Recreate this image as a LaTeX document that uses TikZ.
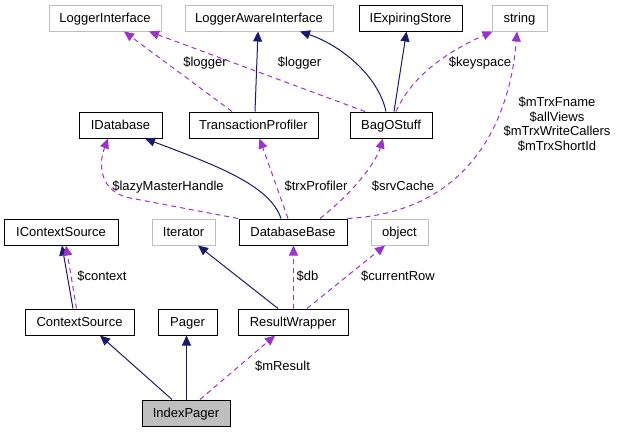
\documentclass[tikz,border=0pt]{standalone}
\usepackage{fontspec}
\setmainfont{Liberation Sans}
\usetikzlibrary{arrows.meta}
\definecolor{navy}{HTML}{191970}
\definecolor{purp}{HTML}{9A32CD}
\definecolor{extgray}{HTML}{BFBFBF}
\begin{document}
\begin{tikzpicture}[x=1pt,y=-1pt,
  box/.style={draw=black, line width=1pt, rectangle, minimum height=26pt, inner sep=0pt,
    font=\fontsize{13}{15}\selectfont, text height=9.3pt, text depth=0pt},
  ext/.style={box, draw=extgray},
  inh/.style={draw=navy, line width=1pt, -{Triangle[length=10pt,width=9pt]}},
  use/.style={draw=purp, line width=1pt, dash pattern=on 5pt off 4pt, -{Triangle[length=10pt,width=9pt]}},
  lbl/.style={font=\fontsize{13}{14.5}\selectfont, inner sep=0pt, anchor=base}]
\useasboundingbox (0,0) rectangle (617,432);
% nodes
\node[ext, minimum width=112pt] (li)  at (105,18)   {LoggerInterface};
\node[ext, minimum width=148pt] (lai) at (259,18)   {LoggerAwareInterface};
\node[box, minimum width=103pt] (ies) at (410.5,18) {IExpiringStore};
\node[ext, minimum width=55pt]  (str) at (519.5,18) {string};
\node[box, minimum width=83pt]  (idb) at (120.5,125) {IDatabase};
\node[box, minimum width=129pt] (tp)  at (253.5,125) {TransactionProfiler};
\node[box, minimum width=82pt]  (bos) at (391,125)  {BagOStuff};
\node[box, minimum width=114pt] (ics) at (61,232)   {IContextSource};
\node[ext, minimum width=63pt]  (it)  at (183.5,232) {Iterator};
\node[box, minimum width=108pt] (db)  at (293,232)  {DatabaseBase};
\node[ext, minimum width=57pt]  (obj) at (399.5,232) {object};
\node[box, minimum width=109pt] (cs)  at (79.5,322) {ContextSource};
\node[box, minimum width=59pt]  (pg)  at (187.5,322) {Pager};
\node[box, minimum width=110pt] (rw)  at (293,322)  {ResultWrapper};
\node[box, minimum width=88pt, fill=extgray] (ip) at (186,413) {IndexPager};
% IndexPager edges
\draw[inh] ([xshift=-14pt]ip.north) -- ([xshift=20.5pt]cs.south);
\draw[inh] ([xshift=0.5pt]ip.north) -- ([xshift=-1pt]pg.south);
\draw[use] ([xshift=14pt]ip.north) -- ([xshift=-18pt]rw.south);
\node[lbl] (lmres) at (282.5,370.7) {\$mResult};
% ContextSource edges
\draw[inh] ([xshift=-6.5pt]cs.north) -- ([xshift=1pt]ics.south);
\draw[use] ([xshift=-3pt]cs.north) -- ([xshift=5pt]ics.south);
\node[lbl] (lctx) at (102,280.3) {\$context};
% ResultWrapper edges
\draw[inh] ([xshift=-15pt]rw.north) -- ([xshift=14.5pt]it.south);
\draw[use] ([xshift=0.5pt]rw.north) -- ([xshift=0.5pt]db.south);
\node[lbl] (ldb) at (307.5,280.3) {\$db};
\draw[use] ([xshift=14pt]rw.north) -- ([xshift=-14.5pt]obj.south);
\node[lbl] (lrow) at (398,280.3) {\$currentRow};
% DatabaseBase edges
\draw[inh] ([xshift=-12pt]db.north) .. controls (270,185) and (215,165) .. ([xshift=24.5pt]idb.south);
\draw[use] ([xshift=-55pt]db.north) -- (130,198) .. controls (100,192) and (98,165) .. ([xshift=-12.5pt]idb.south);
\node[lbl] (llmh) at (168,190) {\$lazyMasterHandle};
\draw[use] ([xshift=-5pt]db.north) -- ([xshift=6pt]tp.south);
\node[lbl] (ltrx) at (316,190) {\$trxProfiler};
\draw[use] ([xshift=27pt]db.north) .. controls (350,195) and (375,165) .. ([xshift=-8pt]bos.south);
\node[lbl] (lsrv) at (403,190) {\$srvCache};
\draw[use] (db.north east) .. controls (470,212) and (510,120) .. ([xshift=-2.5pt]str.south);
\node[lbl, align=center, anchor=north] (lmtrx) at (557,97) {\$mTrxFname\\\$allViews\\\$mTrxWriteCallers\\\$mTrxShortId};
% TransactionProfiler edges
\draw[use] ([xshift=-21.5pt]tp.north) -- ([xshift=19pt]li.south);
\node[lbl] (llog1) at (205,66.5) {\$logger};
\draw[inh] ([xshift=1.5pt]tp.north) -- ([xshift=-1pt]lai.south);
% BagOStuff edges
\draw[use] ([xshift=-26pt]bos.north) -- ([xshift=44pt]li.south);
\node[lbl] (llog2) at (299.5,66.5) {\$logger};
\draw[inh] ([xshift=-5pt]bos.north) .. controls (378,75) and (340,45) .. ([xshift=41pt]lai.south);
\draw[inh] ([xshift=3pt]bos.north) -- ([xshift=-4pt]ies.south);
\draw[use] ([xshift=5pt]bos.north) .. controls (410,80) and (440,55) .. ([xshift=-27pt]str.south);
\node[lbl] (lkey) at (480,66.5) {\$keyspace};
\end{tikzpicture}
\end{document}
